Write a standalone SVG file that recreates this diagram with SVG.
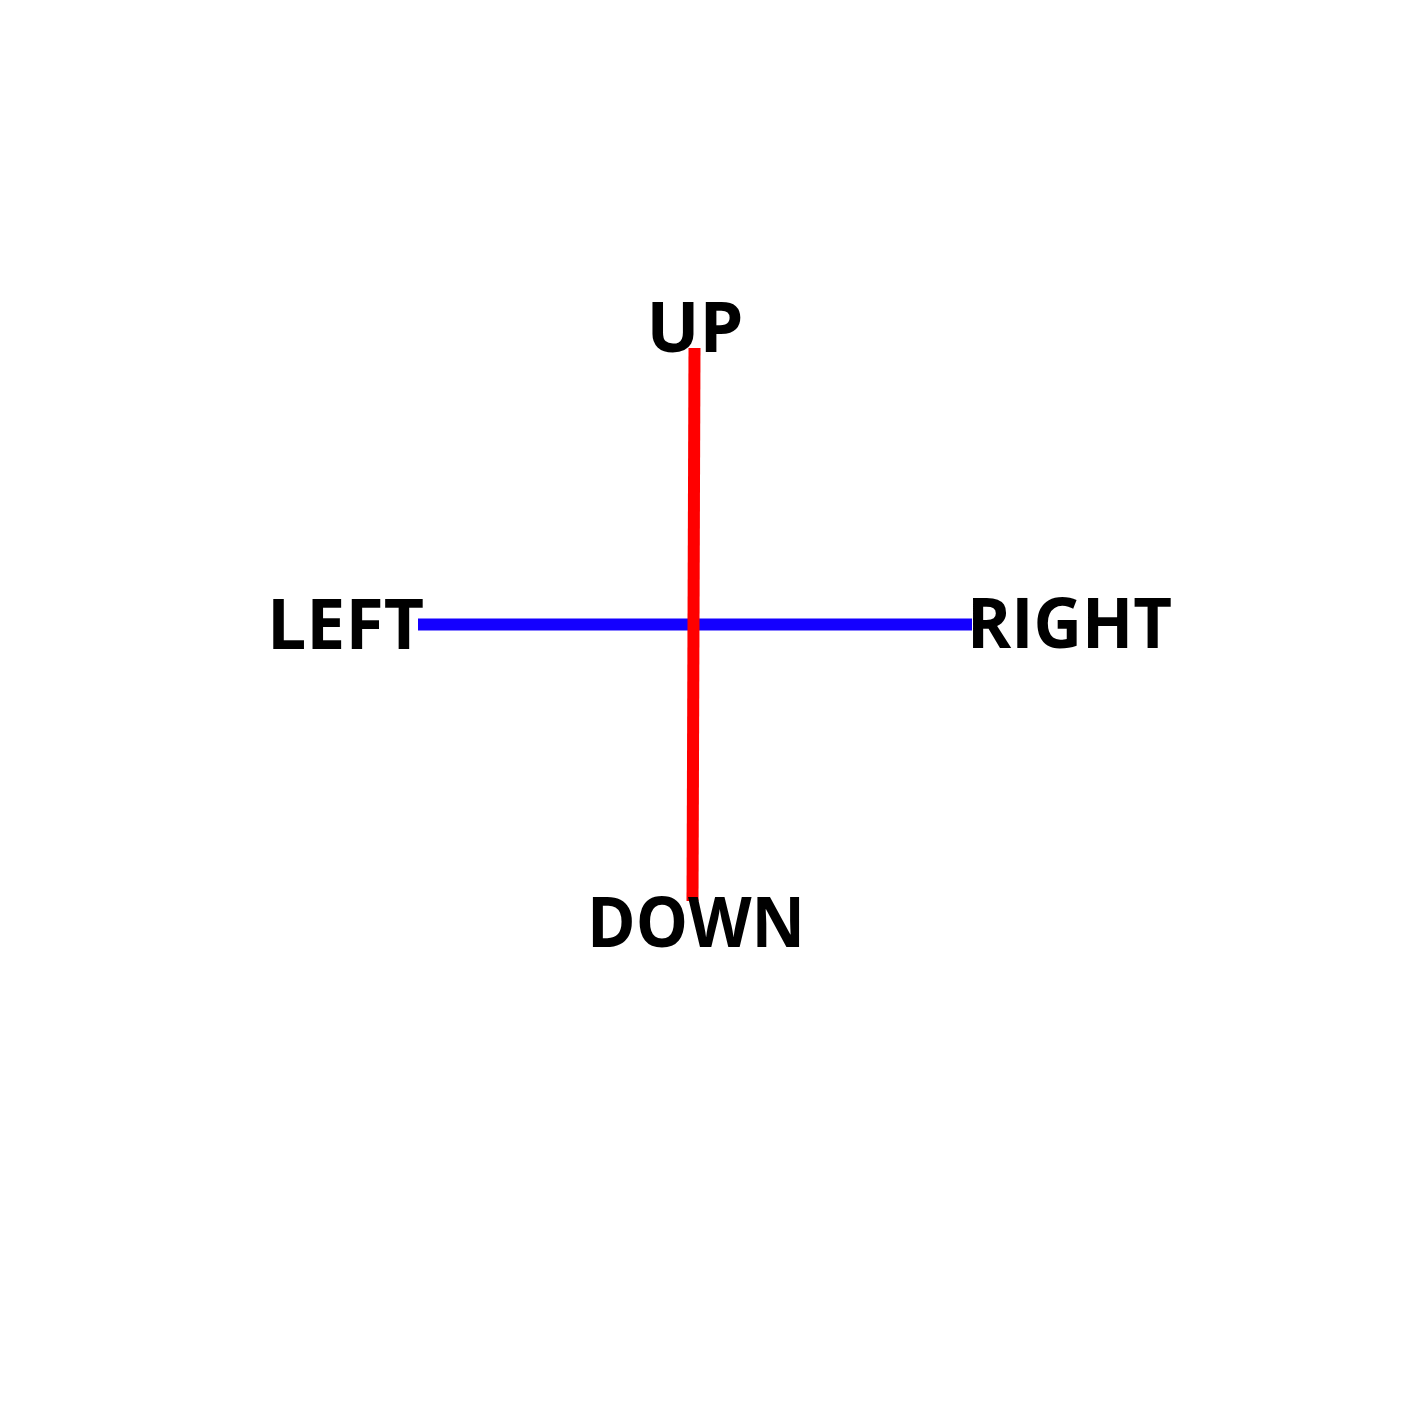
<svg xmlns="http://www.w3.org/2000/svg" width="1417" height="1417" viewBox="0 0 1417 1417">
<style>
.lbl{font-family:"Open Sans","Liberation Sans",sans-serif;font-weight:bold;font-size:70px;fill:#000}
</style>
<rect width="1417" height="1417" fill="#fff"/>
<g id="connectors">
<line x1="418" y1="624.5" x2="972" y2="624.5" stroke="#1400ff" stroke-width="12"/>
<line x1="694.5" y1="348" x2="692.5" y2="901" stroke="#ff0000" stroke-width="12"/>
</g>
<g id="up"><text class="lbl" x="695" y="352" text-anchor="middle">UP</text></g>
<g id="left"><text class="lbl" x="267" y="649" textLength="157" lengthAdjust="spacingAndGlyphs">LEFT</text></g>
<g id="right"><text class="lbl" x="967" y="648" textLength="205" lengthAdjust="spacingAndGlyphs">RIGHT</text></g>
<g id="down"><text class="lbl" x="587" y="947" textLength="218" lengthAdjust="spacingAndGlyphs">DOWN</text></g>
</svg>
